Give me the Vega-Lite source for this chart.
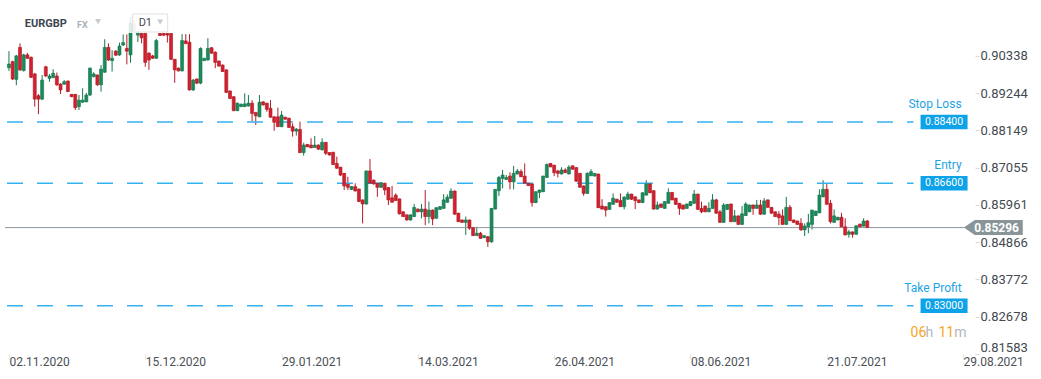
{
"$schema": "https://vega.github.io/schema/vega-lite/v6.json",
"width": 975, "height": 354,
"autosize": {"type": "none"},
"padding": {"left": 0, "top": 0, "right": 66, "bottom": 25},
"background": "white",
"config": {"font": "Roboto", "view": {"stroke": null}},
"datasets": {
"levels": [{"name": "Stop Loss", "price": 0.884}, {"name": "Entry", "price": 0.866}, {"name": "Take Profit", "price": 0.83}],
"last": [{"price": 0.85296}],
"band": [{"top": 0.91982, "bottom": 0.91012}],
"candles": [
{"i":0,"o":0.8999,"h":0.9048,"l":0.8990,"c":0.9010},
{"i":1,"o":0.9017,"h":0.9020,"l":0.8963,"c":0.8966},
{"i":2,"o":0.8965,"h":0.9037,"l":0.8948,"c":0.9034},
{"i":3,"o":0.9059,"h":0.9071,"l":0.8990,"c":0.8993},
{"i":4,"o":0.8991,"h":0.9040,"l":0.8988,"c":0.9037},
{"i":5,"o":0.9037,"h":0.9043,"l":0.9025,"c":0.9027},
{"i":6,"o":0.9030,"h":0.9032,"l":0.8969,"c":0.8971},
{"i":7,"o":0.8981,"h":0.8984,"l":0.8885,"c":0.8907},
{"i":8,"o":0.8917,"h":0.8922,"l":0.8863,"c":0.8907},
{"i":9,"o":0.8907,"h":0.8978,"l":0.8904,"c":0.8963},
{"i":10,"o":0.9002,"h":0.9005,"l":0.8972,"c":0.8975},
{"i":11,"o":0.8968,"h":0.8981,"l":0.8958,"c":0.8975},
{"i":12,"o":0.8970,"h":0.8995,"l":0.8969,"c":0.8983},
{"i":13,"o":0.8975,"h":0.8985,"l":0.8946,"c":0.8949},
{"i":14,"o":0.8951,"h":0.8954,"l":0.8922,"c":0.8934},
{"i":15,"o":0.8951,"h":0.8963,"l":0.8949,"c":0.8958},
{"i":16,"o":0.8960,"h":0.8962,"l":0.8928,"c":0.8929},
{"i":17,"o":0.8921,"h":0.8922,"l":0.8913,"c":0.8914},
{"i":18,"o":0.8921,"h":0.8922,"l":0.8875,"c":0.8882},
{"i":19,"o":0.8885,"h":0.8919,"l":0.8875,"c":0.8904},
{"i":20,"o":0.8898,"h":0.8939,"l":0.8896,"c":0.8904},
{"i":21,"o":0.8899,"h":0.8925,"l":0.8898,"c":0.8919},
{"i":22,"o":0.8919,"h":0.9000,"l":0.8916,"c":0.8998},
{"i":23,"o":0.8973,"h":0.8986,"l":0.8971,"c":0.8981},
{"i":24,"o":0.8978,"h":0.8979,"l":0.8946,"c":0.8949},
{"i":25,"o":0.8949,"h":0.9007,"l":0.8929,"c":0.8995},
{"i":26,"o":0.8986,"h":0.9083,"l":0.8985,"c":0.9059},
{"i":27,"o":0.9059,"h":0.9071,"l":0.9019,"c":0.9022},
{"i":28,"o":0.9020,"h":0.9051,"l":0.8988,"c":0.9027},
{"i":29,"o":0.9048,"h":0.9051,"l":0.9034,"c":0.9036},
{"i":30,"o":0.9037,"h":0.9073,"l":0.9034,"c":0.9063},
{"i":31,"o":0.9066,"h":0.9097,"l":0.9063,"c":0.9073},
{"i":32,"o":0.9056,"h":0.9097,"l":0.9009,"c":0.9048},
{"i":33,"o":0.9037,"h":0.9148,"l":0.9014,"c":0.9130},
{"i":34,"o":0.9128,"h":0.9139,"l":0.9104,"c":0.9110},
{"i":35,"o":0.9095,"h":0.9110,"l":0.9075,"c":0.9103},
{"i":36,"o":0.9100,"h":0.9101,"l":0.9071,"c":0.9087},
{"i":37,"o":0.9100,"h":0.9103,"l":0.9002,"c":0.9015},
{"i":38,"o":0.9042,"h":0.9045,"l":0.8993,"c":0.9022},
{"i":39,"o":0.9034,"h":0.9037,"l":0.9025,"c":0.9027},
{"i":40,"o":0.9027,"h":0.9084,"l":0.9025,"c":0.9079},
{"i":41,"o":0.9100,"h":0.9101,"l":0.9092,"c":0.9094},
{"i":42,"o":0.9100,"h":0.9101,"l":0.9092,"c":0.9095},
{"i":43,"o":0.9100,"h":0.9101,"l":0.9073,"c":0.9095},
{"i":44,"o":0.9100,"h":0.9101,"l":0.9022,"c":0.9024},
{"i":45,"o":0.9024,"h":0.9025,"l":0.8955,"c":0.8993},
{"i":46,"o":0.8998,"h":0.9000,"l":0.8988,"c":0.8990},
{"i":47,"o":0.8990,"h":0.9098,"l":0.8988,"c":0.9079},
{"i":48,"o":0.9078,"h":0.9098,"l":0.9069,"c":0.9070},
{"i":49,"o":0.9074,"h":0.9098,"l":0.8932,"c":0.8934},
{"i":50,"o":0.8934,"h":0.8966,"l":0.8931,"c":0.8963},
{"i":51,"o":0.8966,"h":0.8968,"l":0.8951,"c":0.8954},
{"i":52,"o":0.8954,"h":0.9059,"l":0.8951,"c":0.9056},
{"i":53,"o":0.9020,"h":0.9028,"l":0.9019,"c":0.9027},
{"i":54,"o":0.9022,"h":0.9086,"l":0.9020,"c":0.9056},
{"i":55,"o":0.9058,"h":0.9060,"l":0.9040,"c":0.9042},
{"i":56,"o":0.9045,"h":0.9047,"l":0.8998,"c":0.9015},
{"i":57,"o":0.9019,"h":0.9020,"l":0.9003,"c":0.9004},
{"i":58,"o":0.9007,"h":0.9009,"l":0.8987,"c":0.8988},
{"i":59,"o":0.8993,"h":0.8994,"l":0.8925,"c":0.8927},
{"i":60,"o":0.8931,"h":0.8932,"l":0.8907,"c":0.8909},
{"i":61,"o":0.8914,"h":0.8916,"l":0.8872,"c":0.8873},
{"i":62,"o":0.8873,"h":0.8897,"l":0.8872,"c":0.8895},
{"i":63,"o":0.8885,"h":0.8894,"l":0.8884,"c":0.8892},
{"i":64,"o":0.8885,"h":0.8924,"l":0.8884,"c":0.8893},
{"i":65,"o":0.8887,"h":0.8919,"l":0.8885,"c":0.8895},
{"i":66,"o":0.8895,"h":0.8904,"l":0.8841,"c":0.8865},
{"i":67,"o":0.8868,"h":0.8869,"l":0.8831,"c":0.8858},
{"i":68,"o":0.8855,"h":0.8919,"l":0.8854,"c":0.8898},
{"i":69,"o":0.8899,"h":0.8901,"l":0.8888,"c":0.8890},
{"i":70,"o":0.8895,"h":0.8896,"l":0.8870,"c":0.8877},
{"i":71,"o":0.8880,"h":0.8904,"l":0.8852,"c":0.8854},
{"i":72,"o":0.8855,"h":0.8857,"l":0.8814,"c":0.8839},
{"i":73,"o":0.8855,"h":0.8882,"l":0.8825,"c":0.8826},
{"i":74,"o":0.8826,"h":0.8872,"l":0.8825,"c":0.8860},
{"i":75,"o":0.8854,"h":0.8855,"l":0.8847,"c":0.8848},
{"i":76,"o":0.8851,"h":0.8852,"l":0.8822,"c":0.8824},
{"i":77,"o":0.8826,"h":0.8836,"l":0.8797,"c":0.8813},
{"i":78,"o":0.8813,"h":0.8822,"l":0.8800,"c":0.8819},
{"i":79,"o":0.8818,"h":0.8841,"l":0.8748,"c":0.8750},
{"i":80,"o":0.8750,"h":0.8779,"l":0.8741,"c":0.8772},
{"i":81,"o":0.8774,"h":0.8775,"l":0.8766,"c":0.8767},
{"i":82,"o":0.8772,"h":0.8792,"l":0.8763,"c":0.8764},
{"i":83,"o":0.8765,"h":0.8799,"l":0.8764,"c":0.8772},
{"i":84,"o":0.8772,"h":0.8774,"l":0.8758,"c":0.8760},
{"i":85,"o":0.8758,"h":0.8792,"l":0.8756,"c":0.8780},
{"i":86,"o":0.8780,"h":0.8781,"l":0.8743,"c":0.8748},
{"i":87,"o":0.8750,"h":0.8751,"l":0.8741,"c":0.8743},
{"i":88,"o":0.8751,"h":0.8752,"l":0.8713,"c":0.8715},
{"i":89,"o":0.8718,"h":0.8738,"l":0.8702,"c":0.8704},
{"i":90,"o":0.8707,"h":0.8708,"l":0.8681,"c":0.8684},
{"i":91,"o":0.8689,"h":0.8690,"l":0.8640,"c":0.8652},
{"i":92,"o":0.8657,"h":0.8679,"l":0.8640,"c":0.8648},
{"i":93,"o":0.8642,"h":0.8652,"l":0.8640,"c":0.8650},
{"i":94,"o":0.8650,"h":0.8660,"l":0.8636,"c":0.8637},
{"i":95,"o":0.8643,"h":0.8644,"l":0.8605,"c":0.8606},
{"i":96,"o":0.8611,"h":0.8612,"l":0.8542,"c":0.8599},
{"i":97,"o":0.8599,"h":0.8697,"l":0.8597,"c":0.8696},
{"i":98,"o":0.8696,"h":0.8731,"l":0.8658,"c":0.8660},
{"i":99,"o":0.8669,"h":0.8671,"l":0.8656,"c":0.8658},
{"i":100,"o":0.8660,"h":0.8661,"l":0.8620,"c":0.8648},
{"i":101,"o":0.8648,"h":0.8663,"l":0.8646,"c":0.8661},
{"i":102,"o":0.8660,"h":0.8661,"l":0.8625,"c":0.8640},
{"i":103,"o":0.8647,"h":0.8649,"l":0.8596,"c":0.8611},
{"i":104,"o":0.8617,"h":0.8652,"l":0.8603,"c":0.8604},
{"i":105,"o":0.8625,"h":0.8630,"l":0.8608,"c":0.8609},
{"i":106,"o":0.8614,"h":0.8615,"l":0.8568,"c":0.8570},
{"i":107,"o":0.8576,"h":0.8578,"l":0.8561,"c":0.8562},
{"i":108,"o":0.8567,"h":0.8568,"l":0.8550,"c":0.8552},
{"i":109,"o":0.8552,"h":0.8568,"l":0.8550,"c":0.8567},
{"i":110,"o":0.8562,"h":0.8599,"l":0.8561,"c":0.8589},
{"i":111,"o":0.8584,"h":0.8586,"l":0.8575,"c":0.8576},
{"i":112,"o":0.8576,"h":0.8599,"l":0.8557,"c":0.8584},
{"i":113,"o":0.8584,"h":0.8640,"l":0.8537,"c":0.8562},
{"i":114,"o":0.8562,"h":0.8606,"l":0.8542,"c":0.8581},
{"i":115,"o":0.8581,"h":0.8583,"l":0.8537,"c":0.8555},
{"i":116,"o":0.8557,"h":0.8590,"l":0.8556,"c":0.8588},
{"i":117,"o":0.8583,"h":0.8593,"l":0.8582,"c":0.8591},
{"i":118,"o":0.8586,"h":0.8628,"l":0.8585,"c":0.8611},
{"i":119,"o":0.8604,"h":0.8627,"l":0.8603,"c":0.8619},
{"i":120,"o":0.8616,"h":0.8645,"l":0.8614,"c":0.8637},
{"i":121,"o":0.8637,"h":0.8639,"l":0.8567,"c":0.8569},
{"i":122,"o":0.8572,"h":0.8573,"l":0.8546,"c":0.8547},
{"i":123,"o":0.8552,"h":0.8553,"l":0.8544,"c":0.8545},
{"i":124,"o":0.8545,"h":0.8562,"l":0.8508,"c":0.8552},
{"i":125,"o":0.8552,"h":0.8553,"l":0.8523,"c":0.8528},
{"i":126,"o":0.8529,"h":0.8531,"l":0.8505,"c":0.8506},
{"i":127,"o":0.8506,"h":0.8532,"l":0.8505,"c":0.8513},
{"i":128,"o":0.8513,"h":0.8517,"l":0.8497,"c":0.8498},
{"i":129,"o":0.8500,"h":0.8507,"l":0.8499,"c":0.8506},
{"i":130,"o":0.8503,"h":0.8505,"l":0.8473,"c":0.8488},
{"i":131,"o":0.8488,"h":0.8587,"l":0.8485,"c":0.8586},
{"i":132,"o":0.8584,"h":0.8643,"l":0.8583,"c":0.8642},
{"i":133,"o":0.8638,"h":0.8681,"l":0.8622,"c":0.8677},
{"i":134,"o":0.8674,"h":0.8699,"l":0.8645,"c":0.8684},
{"i":135,"o":0.8671,"h":0.8684,"l":0.8670,"c":0.8677},
{"i":136,"o":0.8681,"h":0.8692,"l":0.8642,"c":0.8664},
{"i":137,"o":0.8664,"h":0.8711,"l":0.8642,"c":0.8689},
{"i":138,"o":0.8687,"h":0.8702,"l":0.8686,"c":0.8696},
{"i":139,"o":0.8694,"h":0.8701,"l":0.8678,"c":0.8679},
{"i":140,"o":0.8681,"h":0.8718,"l":0.8659,"c":0.8660},
{"i":141,"o":0.8660,"h":0.8661,"l":0.8652,"c":0.8653},
{"i":142,"o":0.8658,"h":0.8659,"l":0.8591,"c":0.8603},
{"i":143,"o":0.8603,"h":0.8636,"l":0.8602,"c":0.8635},
{"i":144,"o":0.8633,"h":0.8641,"l":0.8616,"c":0.8640},
{"i":145,"o":0.8635,"h":0.8682,"l":0.8634,"c":0.8681},
{"i":146,"o":0.8677,"h":0.8718,"l":0.8676,"c":0.8715},
{"i":147,"o":0.8718,"h":0.8719,"l":0.8707,"c":0.8708},
{"i":148,"o":0.8713,"h":0.8714,"l":0.8681,"c":0.8691},
{"i":149,"o":0.8696,"h":0.8699,"l":0.8677,"c":0.8689},
{"i":150,"o":0.8687,"h":0.8707,"l":0.8686,"c":0.8699},
{"i":151,"o":0.8699,"h":0.8704,"l":0.8690,"c":0.8691},
{"i":152,"o":0.8687,"h":0.8713,"l":0.8686,"c":0.8707},
{"i":153,"o":0.8711,"h":0.8712,"l":0.8700,"c":0.8701},
{"i":154,"o":0.8706,"h":0.8707,"l":0.8664,"c":0.8666},
{"i":155,"o":0.8689,"h":0.8690,"l":0.8647,"c":0.8648},
{"i":156,"o":0.8652,"h":0.8653,"l":0.8623,"c":0.8630},
{"i":157,"o":0.8630,"h":0.8692,"l":0.8629,"c":0.8689},
{"i":158,"o":0.8682,"h":0.8701,"l":0.8681,"c":0.8694},
{"i":159,"o":0.8681,"h":0.8690,"l":0.8680,"c":0.8689},
{"i":160,"o":0.8687,"h":0.8688,"l":0.8587,"c":0.8588},
{"i":161,"o":0.8593,"h":0.8613,"l":0.8583,"c":0.8584},
{"i":162,"o":0.8591,"h":0.8592,"l":0.8562,"c":0.8581},
{"i":163,"o":0.8583,"h":0.8604,"l":0.8582,"c":0.8603},
{"i":164,"o":0.8598,"h":0.8630,"l":0.8597,"c":0.8616},
{"i":165,"o":0.8613,"h":0.8614,"l":0.8603,"c":0.8604},
{"i":166,"o":0.8609,"h":0.8630,"l":0.8590,"c":0.8591},
{"i":167,"o":0.8591,"h":0.8622,"l":0.8583,"c":0.8619},
{"i":168,"o":0.8613,"h":0.8635,"l":0.8611,"c":0.8628},
{"i":169,"o":0.8628,"h":0.8629,"l":0.8611,"c":0.8613},
{"i":170,"o":0.8620,"h":0.8621,"l":0.8584,"c":0.8609},
{"i":171,"o":0.8611,"h":0.8612,"l":0.8602,"c":0.8603},
{"i":172,"o":0.8603,"h":0.8633,"l":0.8602,"c":0.8632},
{"i":173,"o":0.8625,"h":0.8669,"l":0.8624,"c":0.8658},
{"i":174,"o":0.8658,"h":0.8659,"l":0.8631,"c":0.8632},
{"i":175,"o":0.8638,"h":0.8639,"l":0.8583,"c":0.8584},
{"i":176,"o":0.8584,"h":0.8606,"l":0.8583,"c":0.8596},
{"i":177,"o":0.8599,"h":0.8600,"l":0.8588,"c":0.8589},
{"i":178,"o":0.8586,"h":0.8607,"l":0.8585,"c":0.8606},
{"i":179,"o":0.8601,"h":0.8645,"l":0.8600,"c":0.8633},
{"i":180,"o":0.8633,"h":0.8634,"l":0.8610,"c":0.8611},
{"i":181,"o":0.8616,"h":0.8617,"l":0.8596,"c":0.8598},
{"i":182,"o":0.8601,"h":0.8602,"l":0.8567,"c":0.8586},
{"i":183,"o":0.8596,"h":0.8597,"l":0.8583,"c":0.8584},
{"i":184,"o":0.8586,"h":0.8600,"l":0.8585,"c":0.8599},
{"i":185,"o":0.8594,"h":0.8607,"l":0.8593,"c":0.8606},
{"i":186,"o":0.8601,"h":0.8640,"l":0.8600,"c":0.8628},
{"i":187,"o":0.8628,"h":0.8629,"l":0.8582,"c":0.8583},
{"i":188,"o":0.8586,"h":0.8606,"l":0.8572,"c":0.8576},
{"i":189,"o":0.8593,"h":0.8594,"l":0.8575,"c":0.8576},
{"i":190,"o":0.8576,"h":0.8604,"l":0.8575,"c":0.8586},
{"i":191,"o":0.8586,"h":0.8628,"l":0.8585,"c":0.8611},
{"i":192,"o":0.8611,"h":0.8614,"l":0.8570,"c":0.8572},
{"i":193,"o":0.8576,"h":0.8581,"l":0.8544,"c":0.8545},
{"i":194,"o":0.8545,"h":0.8601,"l":0.8544,"c":0.8596},
{"i":195,"o":0.8583,"h":0.8599,"l":0.8582,"c":0.8598},
{"i":196,"o":0.8599,"h":0.8600,"l":0.8546,"c":0.8547},
{"i":197,"o":0.8547,"h":0.8581,"l":0.8546,"c":0.8564},
{"i":198,"o":0.8564,"h":0.8565,"l":0.8538,"c":0.8539},
{"i":199,"o":0.8539,"h":0.8593,"l":0.8537,"c":0.8570},
{"i":200,"o":0.8565,"h":0.8604,"l":0.8564,"c":0.8599},
{"i":201,"o":0.8576,"h":0.8597,"l":0.8575,"c":0.8596},
{"i":202,"o":0.8596,"h":0.8597,"l":0.8567,"c":0.8586},
{"i":203,"o":0.8586,"h":0.8611,"l":0.8585,"c":0.8596},
{"i":204,"o":0.8596,"h":0.8611,"l":0.8567,"c":0.8569},
{"i":205,"o":0.8569,"h":0.8616,"l":0.8567,"c":0.8608},
{"i":206,"o":0.8611,"h":0.8612,"l":0.8588,"c":0.8589},
{"i":207,"o":0.8589,"h":0.8590,"l":0.8570,"c":0.8572},
{"i":208,"o":0.8576,"h":0.8577,"l":0.8561,"c":0.8562},
{"i":209,"o":0.8569,"h":0.8578,"l":0.8537,"c":0.8559},
{"i":210,"o":0.8564,"h":0.8583,"l":0.8538,"c":0.8539},
{"i":211,"o":0.8539,"h":0.8620,"l":0.8538,"c":0.8589},
{"i":212,"o":0.8589,"h":0.8596,"l":0.8549,"c":0.8550},
{"i":213,"o":0.8552,"h":0.8553,"l":0.8544,"c":0.8545},
{"i":214,"o":0.8549,"h":0.8550,"l":0.8538,"c":0.8539},
{"i":215,"o":0.8542,"h":0.8557,"l":0.8520,"c":0.8523},
{"i":216,"o":0.8523,"h":0.8542,"l":0.8505,"c":0.8534},
{"i":217,"o":0.8532,"h":0.8570,"l":0.8513,"c":0.8544},
{"i":218,"o":0.8539,"h":0.8582,"l":0.8524,"c":0.8581},
{"i":219,"o":0.8565,"h":0.8579,"l":0.8564,"c":0.8578},
{"i":220,"o":0.8573,"h":0.8642,"l":0.8572,"c":0.8625},
{"i":221,"o":0.8620,"h":0.8669,"l":0.8619,"c":0.8642},
{"i":222,"o":0.8642,"h":0.8660,"l":0.8597,"c":0.8598},
{"i":223,"o":0.8601,"h":0.8611,"l":0.8542,"c":0.8547},
{"i":224,"o":0.8545,"h":0.8583,"l":0.8544,"c":0.8564},
{"i":225,"o":0.8552,"h":0.8561,"l":0.8551,"c":0.8560},
{"i":226,"o":0.8560,"h":0.8573,"l":0.8531,"c":0.8532},
{"i":227,"o":0.8532,"h":0.8557,"l":0.8507,"c":0.8508},
{"i":228,"o":0.8510,"h":0.8523,"l":0.8500,"c":0.8517},
{"i":229,"o":0.8517,"h":0.8518,"l":0.8500,"c":0.8510},
{"i":230,"o":0.8510,"h":0.8536,"l":0.8509,"c":0.8535},
{"i":231,"o":0.8540,"h":0.8541,"l":0.8531,"c":0.8532},
{"i":232,"o":0.8534,"h":0.8557,"l":0.8533,"c":0.8549},
{"i":233,"o":0.8549,"h":0.8552,"l":0.8528,"c":0.8530}
]},
"layer": [
{"data": {"name": "candles"}, "mark": {"type": "rule", "strokeWidth": 1},
 "encoding": {
  "x": {"field": "i", "type": "quantitative", "scale": {"domain": [-1.075, 260.88], "nice": false, "zero": false},
   "axis": {"values": [0, 37, 74, 111, 148, 185, 222, 259], "labelExpr": "datum.value==0?'02.11.2020':datum.value==37?'15.12.2020':datum.value==74?'29.01.2021':datum.value==111?'14.03.2021':datum.value==148?'26.04.2021':datum.value==185?'08.06.2021':datum.value==222?'21.07.2021':'29.08.2021'", "title": null, "domain": false, "grid": false, "ticks": true, "tickSize": 5, "tickColor": "#e3e3e3", "labelAlign": "left", "labelPadding": -3, "labelFlush": false, "labelOverlap": false, "labelBound": false, "labelColor": "#4b5056", "labelFontSize": 12, "labelFont": "Roboto"}},
  "y": {"field": "l", "type": "quantitative", "scale": {"domain": [0.81583, 0.91982], "nice": false, "zero": false},
   "axis": {"orient": "right", "values": [0.81583, 0.82678, 0.83772, 0.84866, 0.85961, 0.87055, 0.88149, 0.89244, 0.90338], "format": ".5f", "title": null, "domain": false, "grid": false, "ticks": true, "tickSize": 4, "tickColor": "#d8d8d8", "labelPadding": 1, "labelFontSize": 13, "labelColor": "#444a50", "labelFlush": true, "labelOverlap": false, "labelFont": "Roboto"}},
  "y2": {"field": "h"},
  "color": {"condition": {"test": "datum.c >= datum.o", "value": "#16784e"}, "value": "#b51b28"}}},
{"data": {"name": "levels"}, "mark": {"type": "rule", "strokeDash": [16, 14], "color": "#35b0f0", "strokeWidth": 1.5},
 "encoding": {"y": {"field": "price", "type": "quantitative"}, "x": {"datum": -0.537, "type": "quantitative"}, "x2": {"datum": 245.55}}},
{"data": {"name": "last"}, "mark": {"type": "rule", "color": "#8e979c", "strokeWidth": 1},
 "encoding": {"y": {"field": "price", "type": "quantitative"}, "x": {"datum": -1.075, "type": "quantitative"}, "x2": {"datum": 259.3}}},
{"data": {"name": "candles"}, "mark": {"type": "bar", "size": 3, "strokeWidth": 0.6},
 "encoding": {
  "x": {"field": "i", "type": "quantitative"},
  "y": {"field": "o", "type": "quantitative"},
  "y2": {"field": "c"},
  "fill": {"condition": {"test": "datum.c >= datum.o", "value": "#1a8c5b"}, "value": "#d4202f"},
  "stroke": {"condition": {"test": "datum.c >= datum.o", "value": "#12704a"}, "value": "#a9161f"}}},
{"data": {"name": "band"}, "mark": {"type": "rule", "color": "#ffffff", "strokeWidth": 1200, "opacity": 0.85, "strokeCap": "butt"},
 "encoding": {"x": {"datum": 130, "type": "quantitative"}, "y": {"field": "top", "type": "quantitative"}, "y2": {"field": "bottom"}}},
{"data": {"name": "levels"}, "mark": {"type": "text", "align": "right", "baseline": "alphabetic", "dy": -14, "fontSize": 12, "color": "#1fa3e3"},
 "encoding": {"x": {"datum": 258.6, "type": "quantitative"}, "y": {"field": "price", "type": "quantitative"}, "text": {"field": "name"}}},
{"data": {"name": "levels"}, "mark": {"type": "point", "shape": "M-1,-0.306L1,-0.306L1,0.306L-1,0.306Z", "size": 2209, "filled": true, "fill": "#0ea2e8", "opacity": 1, "strokeWidth": 0},
 "encoding": {"x": {"datum": 253.84, "type": "quantitative"}, "y": {"field": "price", "type": "quantitative"}}},
{"data": {"name": "levels"}, "mark": {"type": "text", "align": "center", "baseline": "middle", "fontSize": 10.5, "color": "#ffffff"},
 "encoding": {"x": {"datum": 253.84, "type": "quantitative"}, "y": {"field": "price", "type": "quantitative"}, "text": {"field": "price", "type": "quantitative", "format": ".5f"}}},
{"data": {"name": "last"}, "mark": {"type": "point", "shape": "M-1,0L-0.627,-0.254L1,-0.254L1,0.254L-0.627,0.254Z", "size": 3481, "filled": true, "fill": "#8a959a", "opacity": 1, "strokeWidth": 0},
 "encoding": {"x": {"datum": 267.2, "type": "quantitative"}, "y": {"field": "price", "type": "quantitative"}}},
{"data": {"name": "last"}, "mark": {"type": "text", "align": "center", "baseline": "middle", "fontSize": 12, "fontWeight": "bold", "color": "#ffffff"},
 "encoding": {"x": {"datum": 268.1, "type": "quantitative"}, "y": {"field": "price", "type": "quantitative"}, "text": {"field": "price", "type": "quantitative", "format": ".5f"}}},
{"data": {"values": [{}]}, "mark": {"type": "point", "shape": "M-1,-0.514L1,-0.514L1,0.514L-1,0.514Z", "size": 1225, "filled": true, "fill": "#ffffff", "fillOpacity": 0.6, "opacity": 1, "stroke": "#dde1e4", "strokeWidth": 1},
 "encoding": {"x": {"datum": 38.34, "type": "quantitative"}, "y": {"datum": 0.91306, "type": "quantitative"}}},
{"data": {"values": [{}]}, "mark": {"type": "text", "align": "left", "baseline": "middle", "fontSize": 11, "fontWeight": "bold", "color": "#3c4650", "text": "EURGBP"},
 "encoding": {"x": {"datum": 4.3, "type": "quantitative"}, "y": {"datum": 0.91286, "type": "quantitative"}}},
{"data": {"values": [{}]}, "mark": {"type": "text", "align": "left", "baseline": "middle", "fontSize": 9, "fontWeight": "bold", "color": "#a9b2b8", "text": "FX"},
 "encoding": {"x": {"datum": 18.46, "type": "quantitative"}, "y": {"datum": 0.91262, "type": "quantitative"}}},
{"data": {"values": [{}]}, "mark": {"type": "point", "shape": "triangle-down", "size": 36, "filled": true, "fill": "#c3cad0", "opacity": 1, "strokeWidth": 0},
 "encoding": {"x": {"datum": 24.18, "type": "quantitative"}, "y": {"datum": 0.91344, "type": "quantitative"}}},
{"data": {"values": [{}]}, "mark": {"type": "text", "align": "left", "baseline": "middle", "fontSize": 11, "color": "#444a50", "text": "D1"},
 "encoding": {"x": {"datum": 35.2, "type": "quantitative"}, "y": {"datum": 0.91292, "type": "quantitative"}}},
{"data": {"values": [{}]}, "mark": {"type": "point", "shape": "triangle-down", "size": 36, "filled": true, "fill": "#c3cad0", "opacity": 1, "strokeWidth": 0},
 "encoding": {"x": {"datum": 41.03, "type": "quantitative"}, "y": {"datum": 0.91336, "type": "quantitative"}}},
{"data": {"values": [{}]}, "mark": {"type": "text", "align": "left", "baseline": "middle", "fontSize": 14, "color": "#f5a623", "text": "06"},
 "encoding": {"x": {"datum": 244.76, "type": "quantitative"}, "y": {"datum": 0.82199, "type": "quantitative"}}},
{"data": {"values": [{}]}, "mark": {"type": "text", "align": "left", "baseline": "middle", "fontSize": 14, "color": "#b0b8bd", "text": "h"},
 "encoding": {"x": {"datum": 248.8, "type": "quantitative"}, "y": {"datum": 0.82199, "type": "quantitative"}}},
{"data": {"values": [{}]}, "mark": {"type": "text", "align": "left", "baseline": "middle", "fontSize": 14, "color": "#f5a623", "text": "11"},
 "encoding": {"x": {"datum": 252.3, "type": "quantitative"}, "y": {"datum": 0.82199, "type": "quantitative"}}},
{"data": {"values": [{}]}, "mark": {"type": "text", "align": "left", "baseline": "middle", "fontSize": 14, "color": "#b0b8bd", "text": "m"},
 "encoding": {"x": {"datum": 256.6, "type": "quantitative"}, "y": {"datum": 0.82199, "type": "quantitative"}}}
]
}
